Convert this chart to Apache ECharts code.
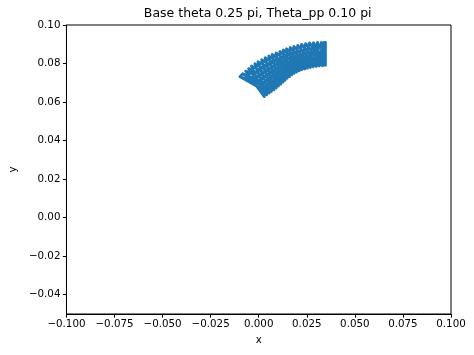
<!DOCTYPE html>
<html>
<head>
<meta charset="utf-8">
<script src="https://cdn.jsdelivr.net/npm/echarts@6/dist/echarts.min.js"></script>
<style>
html,body{margin:0;padding:0;background:#fff;}
#chart{width:474px;height:355px;}
</style>
</head>
<body>
<div id="chart"></div>
<script>
// Trajectory points (zigzag tips on the band edges, in drawing order)
var xs = [-0.0098, 0.0079, 0.0033, 0.0172, 0.0183, 0.0283, 0.0347, 0.0347, 0.0264, 0.0224, 0.0110, 0.0126, -0.0038,
          0.0029, -0.0068, 0.0102, 0.0070, 0.0197, 0.0223, 0.0314, 0.0306, 0.0253, 0.0145, 0.0148, -0.0004, 0.0054, -0.0098,
          -0.0083, 0.0091, 0.0052, 0.0184, 0.0203, 0.0299, 0.0347, 0.0347, 0.0341, 0.0337, 0.0285, 0.0239, 0.0128, 0.0137, -0.0020,
          0.0041, -0.0053, 0.0114, 0.0090, 0.0210, 0.0244, 0.0330, 0.0326, 0.0268, 0.0164, 0.0160, 0.0015, 0.0066, -0.0083];
var ys = [0.0732, 0.0664, 0.0830, 0.0742, 0.0889, 0.0783, 0.0910, 0.0791, 0.0907, 0.0768, 0.0863, 0.0703, 0.0787,
          0.0628, 0.0761, 0.0683, 0.0847, 0.0756, 0.0899, 0.0788, 0.0910, 0.0776, 0.0877, 0.0723, 0.0810, 0.0646, 0.0732,
          0.0747, 0.0673, 0.0839, 0.0749, 0.0894, 0.0785, 0.0910, 0.0791, 0.0910, 0.0791, 0.0908, 0.0772, 0.0870, 0.0713, 0.0799,
          0.0637, 0.0774, 0.0693, 0.0855, 0.0762, 0.0903, 0.0789, 0.0910, 0.0780, 0.0883, 0.0732, 0.0820, 0.0655, 0.0747];
var xTicks = [-0.1, -0.075, -0.05, -0.025, 0, 0.025, 0.05, 0.075, 0.1];
var yTicks = [-0.04, -0.02, 0, 0.02, 0.04, 0.06, 0.08, 0.1];
var titleText = 'Base theta 0.25 pi, Theta_pp 0.10 pi';

var pts = xs.map(function(x, i){ return [x, ys[i]]; });
var font = 'DejaVu Sans';
function fmt(d){ return function(v){ var s = Math.abs(v).toFixed(d); return (v < -1e-12 ? '\u2212' : '') + s; }; }

var chart = echarts.init(document.getElementById('chart'), null, {renderer:'canvas'});
chart.setOption({
  animation: false,
  backgroundColor: '#fff',
  grid: {left: 64, right: 23, top: 25, bottom: 41, show: true, borderColor: '#000', borderWidth: 1, containLabel: false},
  graphic: [{
    type: 'text', x: 257.7, y: 13.5,
    style: {text: titleText, font: '12.5px "DejaVu Sans"', fill: '#000', align: 'center', verticalAlign: 'middle'}
  }],
  xAxis: {
    type: 'value', min: -0.1, max: 0.1, interval: 0.025,
    name: 'x', nameLocation: 'middle', nameGap: 21,
    nameTextStyle: {fontFamily: font, fontSize: 10.3, color: '#000'},
    axisLine: {show: true, onZero: false, lineStyle: {color: '#000', width: 1}},
    axisTick: {show: true, length: 3.6, lineStyle: {color: '#000', width: 1}, customValues: xTicks},
    axisLabel: {show: true, customValues: xTicks, formatter: fmt(3), fontFamily: font, fontSize: 10.3, color: '#000', margin: 5},
    splitLine: {show: false}
  },
  yAxis: {
    type: 'value', min: -0.05, max: 0.1,
    name: 'y', nameLocation: 'middle', nameGap: 46, nameRotate: 90,
    nameTextStyle: {fontFamily: font, fontSize: 10.3, color: '#000'},
    axisLine: {show: true, onZero: false, lineStyle: {color: '#000', width: 1}},
    axisTick: {show: true, length: 3.6, lineStyle: {color: '#000', width: 1}, customValues: yTicks},
    axisLabel: {show: true, customValues: yTicks, formatter: fmt(2), fontFamily: font, fontSize: 10.3, color: '#000', margin: 6},
    splitLine: {show: false}
  },
  series: [{
    type: 'line', data: pts, showSymbol: false, symbol: 'none',
    lineStyle: {color: '#1f77b4', width: 2.8, join: 'round', cap: 'round'},
    emphasis: {disabled: true}
  }]
});
</script>
</body>
</html>
